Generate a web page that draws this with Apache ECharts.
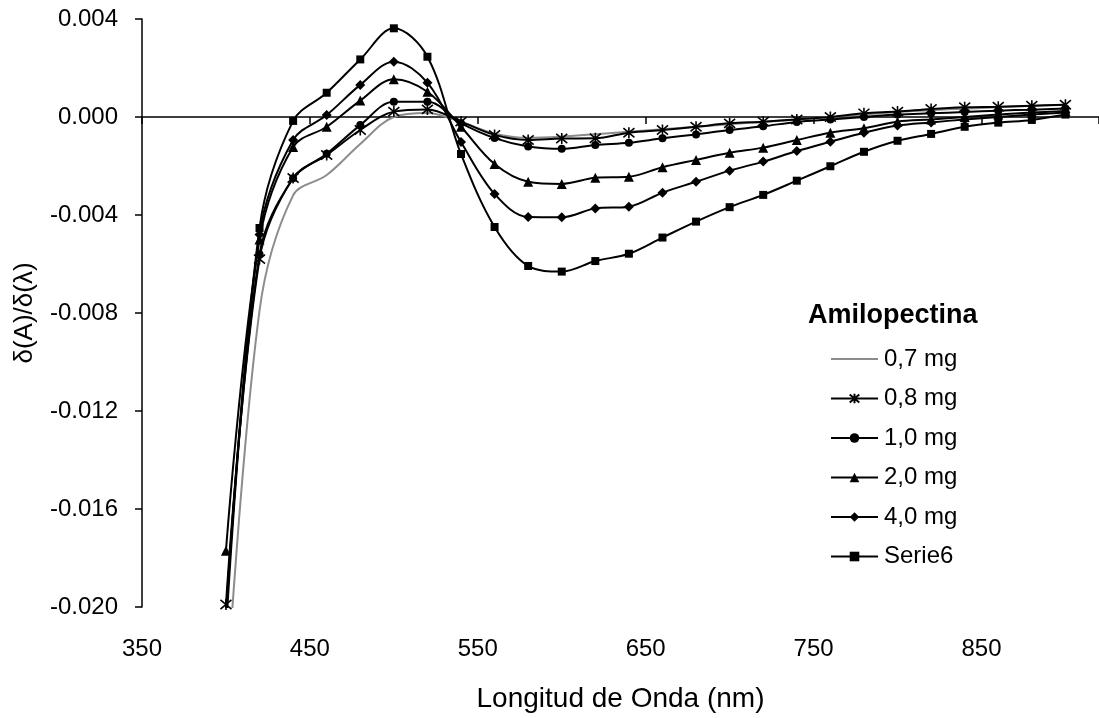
<!DOCTYPE html>
<html>
<head>
<meta charset="utf-8">
<script src="https://cdn.jsdelivr.net/npm/echarts@6/dist/echarts.min.js"></script>
<style>
  html, body { margin: 0; padding: 0; background: #fff; }
  #chart { width: 1099px; height: 718px; }
</style>
</head>
<body>
<div id="chart"></div>
<script>
// longitud de onda (nm)
const wavelengths = [400, 420, 440, 460, 480, 500, 520, 540, 560, 580, 600, 620, 640,
  660, 680, 700, 720, 740, 760, 780, 800, 820, 840, 860, 880, 900]

const mg07 = [-0.0240, -0.0079, -0.0032, -0.00237, -0.00110, 0.00000, 0.00016, -0.00020, -0.00068, -0.00085,
  -0.00080, -0.00070, -0.00060, -0.00050, -0.00040, -0.00030, -0.00020, -0.00010, 0.00000, 0.00010,
  0.00020, 0.00028, 0.00034, 0.00040, 0.00045, 0.00050]
const mg08 = [-0.0199, -0.0058, -0.00249, -0.00155, -0.00053, 0.00022, 0.00031, -0.00019, -0.00073, -0.00094,
  -0.00088, -0.00087, -0.00064, -0.00053, -0.00040, -0.00026, -0.00019, -0.00010, 0.00000, 0.00015,
  0.00022, 0.00033, 0.00040, 0.00042, 0.00046, 0.00050]
const mg10 = [-0.0203, -0.0056, -0.00250, -0.00150, -0.00033, 0.00062, 0.00062, -0.00025, -0.00086, -0.00120,
  -0.00130, -0.00114, -0.00105, -0.00087, -0.00071, -0.00053, -0.00038, -0.00020, -0.00010, 0.00000,
  0.00010, 0.00015, 0.00020, 0.00026, 0.00030, 0.00035]
const mg20 = [-0.0177, -0.0050, -0.00122, -0.00040, 0.00067, 0.00154, 0.00103, -0.00040, -0.00192, -0.00264,
  -0.00273, -0.00248, -0.00244, -0.00205, -0.00175, -0.00146, -0.00125, -0.00094, -0.00064, -0.00046,
  -0.00019, -0.00010, 0.00000, 0.00010, 0.00018, 0.00025]
const mg40 = [-0.0205, -0.0048, -0.00094, 0.00008, 0.00131, 0.00226, 0.00140, -0.00102, -0.00314, -0.00408,
  -0.00409, -0.00373, -0.00366, -0.00309, -0.00264, -0.00219, -0.00182, -0.00139, -0.00101, -0.00064,
  -0.00035, -0.00022, -0.00010, 0.00000, 0.00010, 0.00018]
const serie6 = [-0.0210, -0.00453, -0.00016, 0.00099, 0.00235, 0.00362, 0.00246, -0.00151, -0.00449, -0.00608,
  -0.00631, -0.00588, -0.00558, -0.00492, -0.00427, -0.00368, -0.00318, -0.00260, -0.00201, -0.00142,
  -0.00097, -0.00069, -0.00040, -0.00023, -0.00012, 0.00010]

const seriesNames = ['0,7 mg', '0,8 mg', '1,0 mg', '2,0 mg', '4,0 mg', 'Serie6']
const seriesValues = [mg07, mg08, mg10, mg20, mg40, serie6]

const FONT = '"Liberation Sans", Arial, sans-serif'
const STAR = 'path://M0,0L10,10M10,0L0,10M5,-1L5,11'

function pairs(values) {
  return wavelengths.map((x, i) => [x, values[i]])
}

function initSeries(name, data, symbol, size) {
  const gray = symbol === 'none'
  return {
    name,
    type: 'line',
    data: pairs(data),
    smooth: 0.35,
    symbol,
    symbolSize: size,
    showSymbol: !gray,
    clip: true,
    lineStyle: { width: 2, color: gray ? '#8c8c8c' : '#000' },
    itemStyle: {
      color: gray ? '#8c8c8c' : '#000',
      borderColor: '#000',
      borderWidth: symbol === STAR ? 1.6 : 0
    },
    emphasis: { disabled: true }
  }
}

const markers = [['none', 0], [STAR, 11], ['circle', 8], ['triangle', 10], ['diamond', 10], ['rect', 8]]

// la serie gris no lleva marcador en la leyenda
const legendData = seriesNames.map((n, i) => i === 0
  ? { name: n, itemStyle: { color: 'rgba(0,0,0,0)', borderWidth: 0, opacity: 0 } }
  : { name: n })

const chart = echarts.init(document.getElementById('chart'), null, { renderer: 'canvas' })

const option = {
  animation: false,
  backgroundColor: '#fff',
  textStyle: { fontFamily: FONT, color: '#000' },
  grid: { left: 142, top: 19, right: -3, bottom: 111, containLabel: false },
  title: {
    text: 'Amilopectina',
    left: 803,
    top: 297,
    textStyle: { fontFamily: FONT, fontSize: 27, fontWeight: 'bold', color: '#000' }
  },
  legend: {
    orient: 'vertical',
    left: 825,
    top: 342,
    itemWidth: 47,
    itemHeight: 12,
    itemGap: 15.5,
    data: legendData,
    textStyle: { fontFamily: FONT, fontSize: 24, color: '#000', padding: [0, 0, 0, 1] },
    selectedMode: false
  },
  xAxis: [{
    // etiquetas abajo
    type: 'value',
    position: 'bottom',
    min: 350,
    max: 920,
    interval: 100,
    name: 'Longitud de Onda (nm)',
    nameLocation: 'middle',
    nameGap: 78,
    nameTextStyle: { fontFamily: FONT, fontSize: 28, color: '#000' },
    axisLine: { show: false, onZero: false },
    axisTick: { show: false },
    splitLine: { show: false },
    axisLabel: { fontFamily: FONT, fontSize: 24, color: '#000', margin: 30, showMaxLabel: false }
  }, {
    // linea del cero
    type: 'value',
    position: 'top',
    min: 350,
    max: 920,
    interval: 100,
    axisLine: { show: true, onZero: true, lineStyle: { color: '#000', width: 1.5 } },
    axisTick: { show: true, inside: true, length: 7, lineStyle: { color: '#000', width: 1.5 } },
    axisLabel: { show: false },
    splitLine: { show: false }
  }],
  yAxis: {
    type: 'value',
    min: -0.02,
    max: 0.004,
    interval: 0.004,
    name: 'δ(A)/δ(λ)',
    nameLocation: 'middle',
    nameGap: 104,
    nameTextStyle: { fontFamily: FONT, fontSize: 26, color: '#000' },
    axisLine: { show: true, onZero: false, lineStyle: { color: '#000', width: 1.5 } },
    axisTick: { show: true, length: 7, lineStyle: { color: '#000', width: 1.5 } },
    splitLine: { show: false },
    axisLabel: {
      fontFamily: FONT,
      fontSize: 24,
      color: '#000',
      margin: 24,
      formatter: v => (Math.abs(v) < 1e-9 ? 0 : v).toFixed(3)
    }
  },
  series: seriesNames.map((n, i) => initSeries(n, seriesValues[i], markers[i][0], markers[i][1]))
}

chart.setOption(option)
</script>
</body>
</html>
